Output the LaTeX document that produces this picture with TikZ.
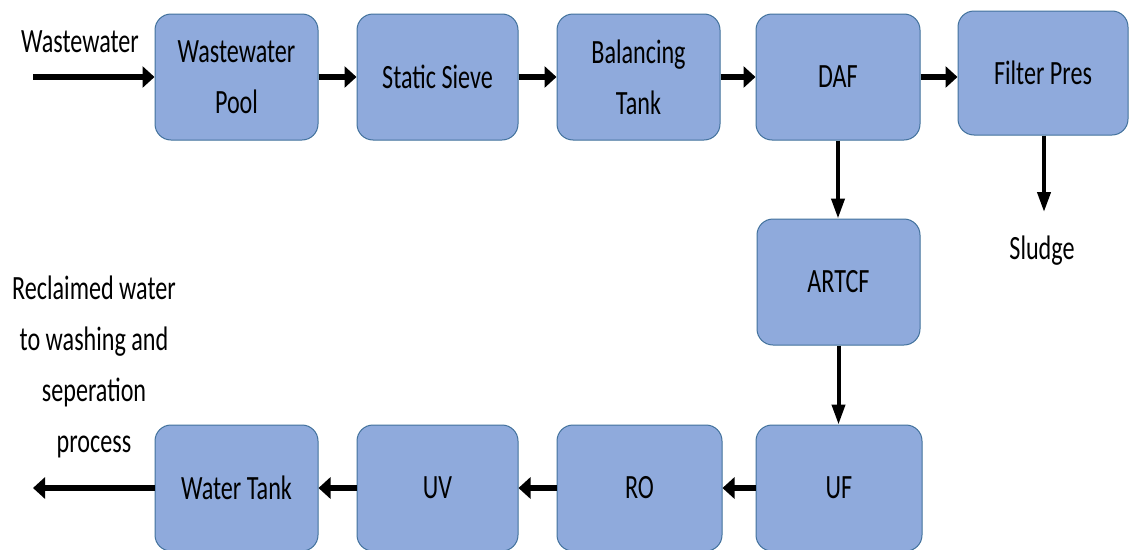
\documentclass[tikz,border=0pt]{standalone}
\usepackage{fontspec}
\usetikzlibrary{arrows.meta}
\newfontfamily\diagfont[FakeStretch=0.71]{Carlito}
\definecolor{boxfill}{HTML}{8FAADC}
\definecolor{boxline}{HTML}{41719C}
\begin{document}
\begin{tikzpicture}[x=1pt,y=-1pt,
  font=\diagfont\fontsize{34}{51}\selectfont,
  stage/.style={draw=boxline, line width=1pt, fill=boxfill, rounded corners=16pt,
    minimum width=163pt, minimum height=126pt, inner sep=0pt, align=center},
  hflow/.style={line width=6pt, -{Triangle[length=12pt,width=21pt]}},
  vflow/.style={line width=4pt, -{Triangle[length=20pt,width=13pt]}},
  label/.style={inner sep=0pt, align=center}]
\useasboundingbox (0,0) rectangle (1129,549);

% top row
\node[stage] (pool)  at (236.5,77) {Wastewater\\Pool};
\node[stage, minimum width=161pt] (sieve) at (437.5,77) {Static Sieve};
\node[stage] (bal)   at (638.5,77) {Balancing\\Tank};
\node[stage, minimum width=164pt] (daf) at (838,77) {DAF};
\node[stage, minimum width=170pt, minimum height=124pt] (filt) at (1043,73) {Filter Pres};

% middle
\node[stage] (artcf) at (838.5,282) {ARTCF};

% bottom row
\node[stage, minimum width=166pt] (uf) at (839,488) {UF};
\node[stage, minimum width=165pt] (ro) at (639.5,488) {RO};
\node[stage, minimum width=161pt] (uv) at (437.5,488) {UV};
\node[stage] (tank)  at (236.5,488) {Water Tank};

% free labels
\node[label] (inlbl) at (80,42) {Wastewater};
\node[label] (sludge) at (1042,251) {Sludge};
\node[label, anchor=base] (outlbl) at (94,452) {Reclaimed water\\to washing and\\seperation\\process};

% free ends
\coordinate (inpt) at (33,77);
\coordinate (sludgetip) at (1044,212);
\coordinate (outpt) at (33,488);

% connectors
\draw[hflow] (inpt) -- (pool.west);
\draw[hflow] (pool.east) -- (sieve.west);
\draw[hflow] (sieve.east) -- (bal.west);
\draw[hflow] (bal.east) -- (daf.west);
\draw[hflow] (daf.east) -- (daf.east -| filt.west);
\draw[vflow] (daf.south) -- (daf.south |- artcf.north);
\draw[vflow] (filt.south -| sludgetip) -- (sludgetip);
\draw[vflow] (artcf.south) -- (artcf.south |- uf.north);
\draw[hflow] (uf.west) -- (ro.east);
\draw[hflow] (ro.west) -- (uv.east);
\draw[hflow] (uv.west) -- (tank.east);
\draw[hflow] (tank.west) -- (outpt);
\end{tikzpicture}
\end{document}
